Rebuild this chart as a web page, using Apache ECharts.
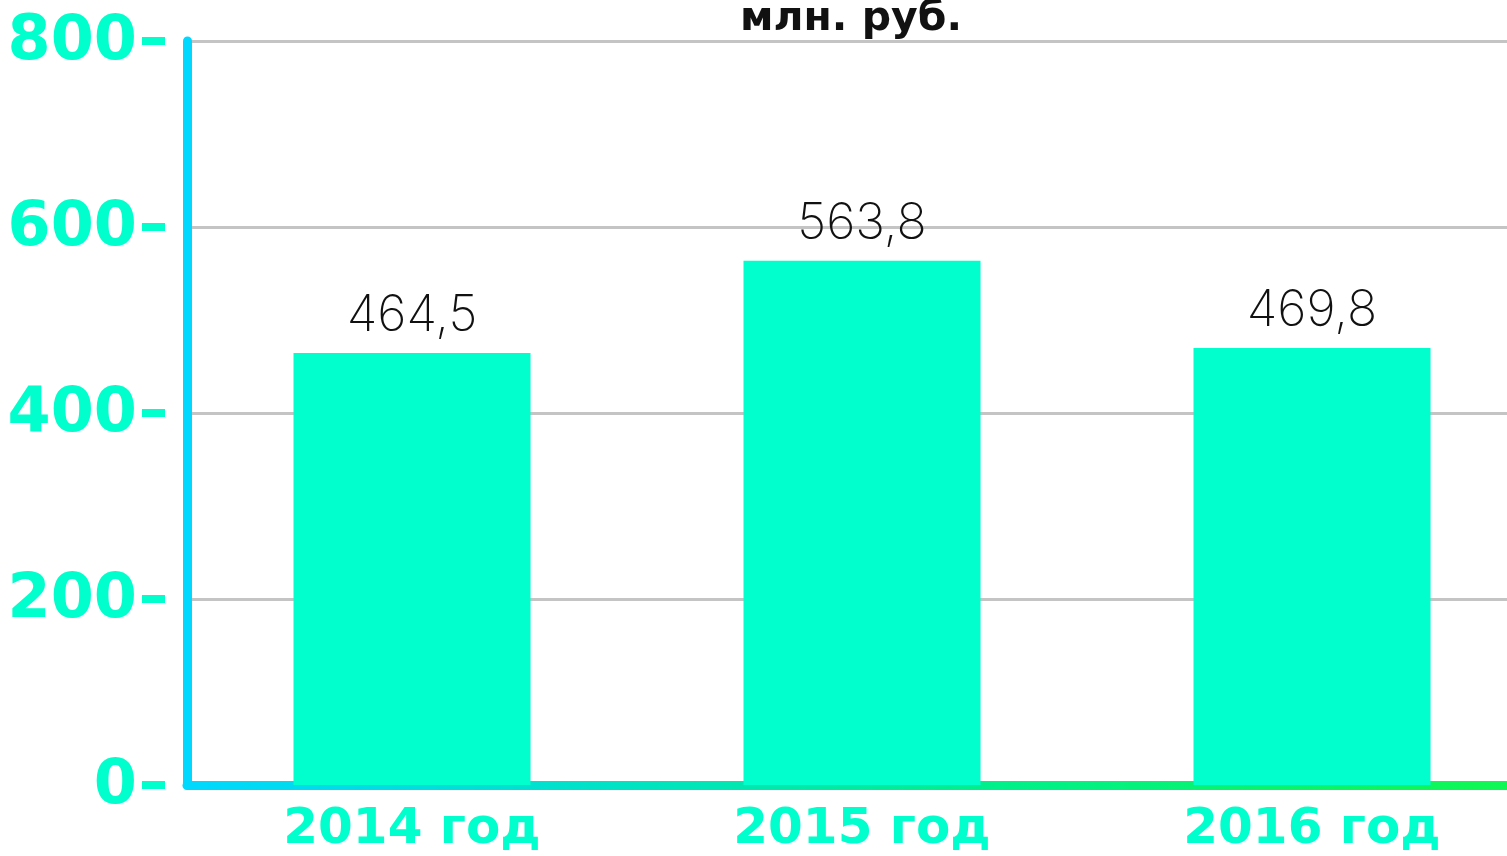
<!DOCTYPE html>
<html>
<head>
<meta charset="utf-8">
<script src="https://cdn.jsdelivr.net/npm/echarts@6/dist/echarts.min.js"></script>
<style>
  html, body { margin: 0; padding: 0; background: #fff; }
  #chart { width: 1507px; height: 856px; }
</style>
</head>
<body>
<div id="chart"></div>
<script>
// данные
var years = ['2014 год', '2015 год', '2016 год'];
var values = [464.5, 563.8, 469.8];
var valueLabels = ['464,5', '563,8', '469,8'];
var yTicks = [0, 200, 400, 600, 800];

var teal = '#00ffcc';

var chart = echarts.init(document.getElementById('chart'));

var option = {
  animation: false,
  title: {
    text: 'млн. руб.',
    left: 846,
    top: -6,
    textAlign: 'center',
    textStyle: {
      fontFamily: 'DejaVu Sans',
      fontWeight: 'bold',
      fontSize: 41,
      color: '#111'
    }
  },
  grid: {
    left: 187,
    width: 1350,
    top: 41,
    bottom: 71,
    outerBoundsMode: 'none'
  },
  xAxis: {
    type: 'category',
    data: years,
    axisTick: { show: false },
    axisLine: {
      lineStyle: {
        width: 9,
        cap: 'round',
        color: new echarts.graphic.LinearGradient(0, 0, 1, 0, [
          { offset: 0, color: '#00d8ff' },
          { offset: 0.3, color: '#00e2c8' },
          { offset: 0.6, color: '#00f08a' },
          { offset: 1, color: '#10f850' }
        ])
      }
    },
    axisLabel: {
      margin: 20,
      color: teal,
      fontFamily: 'DejaVu Sans',
      fontWeight: 'bold',
      fontSize: 50
    }
  },
  yAxis: {
    type: 'value',
    min: yTicks[0],
    max: yTicks[yTicks.length - 1],
    interval: 200,
    axisTick: { show: false },
    axisLine: {
      show: true,
      lineStyle: { width: 9, cap: 'round', color: '#00d8ff' }
    },
    splitLine: {
      lineStyle: { color: '#c4c4c4', width: 3 }
    },
    axisLabel: {
      margin: 22,
      formatter: function (v) { return '{v|' + v + '}{d|}'; },
      rich: {
        v: {
          color: teal,
          fontFamily: 'DejaVu Sans',
          fontWeight: 'bold',
          fontSize: 62,
          padding: [4, 5, 0, 0]
        },
        d: {
          backgroundColor: teal,
          width: 23,
          height: 8
        }
      }
    }
  },
  series: [
    {
      type: 'bar',
      data: values,
      barWidth: 237,
      itemStyle: { color: teal },
      label: {
        show: true,
        position: 'top',
        distance: 12,
        formatter: function (p) { return valueLabels[p.dataIndex]; },
        color: '#111',
        fontFamily: 'Inter',
        fontWeight: 200,
        fontSize: 50
      }
    }
  ]
};

chart.setOption(option);
</script>
</body>
</html>
